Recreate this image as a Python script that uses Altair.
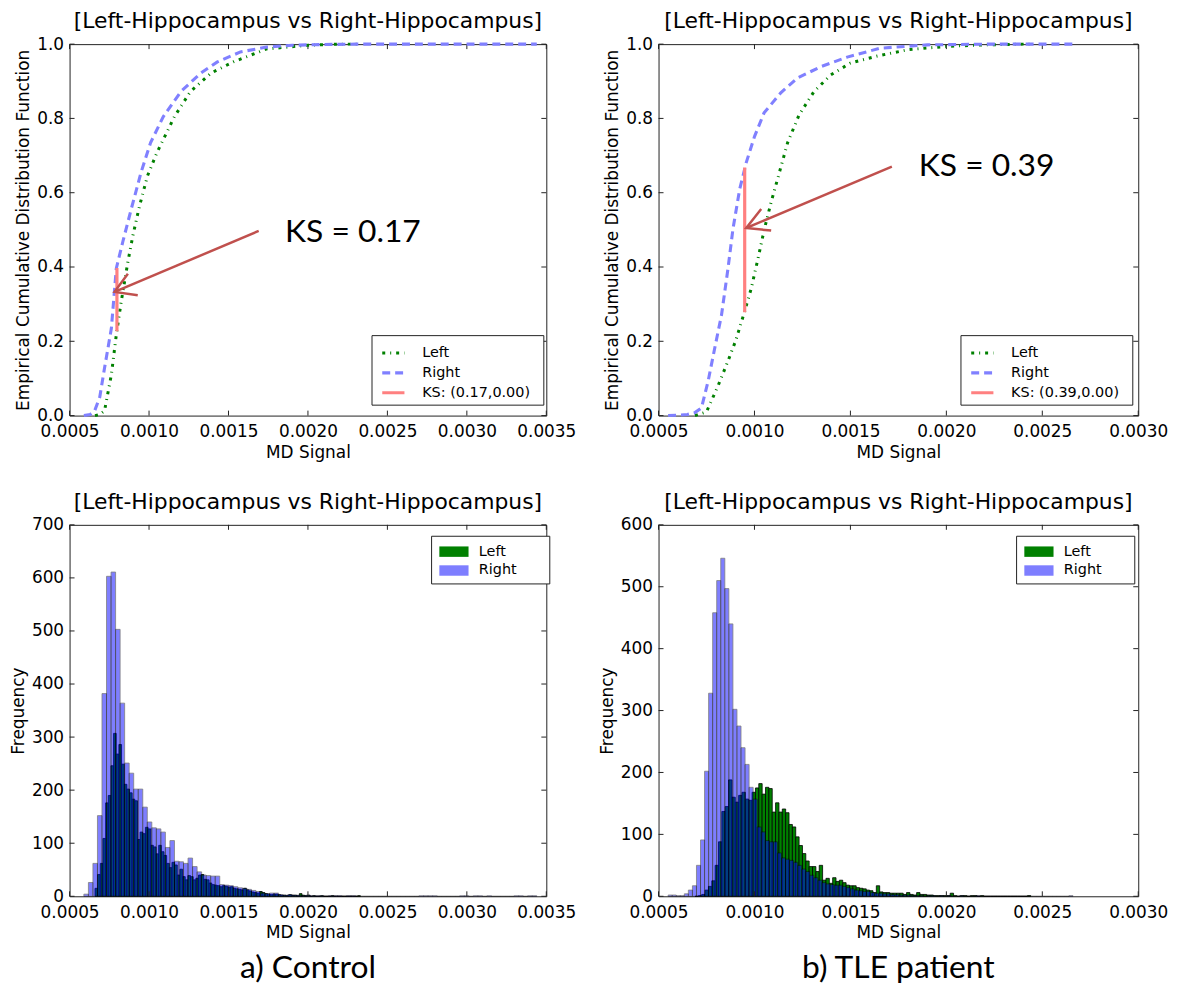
import altair as alt
import pandas as pd

# ---------------- text ----------------
TITLE = "[Left-Hippocampus vs Right-Hippocampus]"
CAPTIONS = ["a) Control", "b) TLE patient"]
KS_LABELS = ["KS: (0.17,0.00)", "KS: (0.39,0.00)"]
KS_TEXT = ["KS = 0.17", "KS = 0.39"]

# ---------------- tick labels ----------------
XTICKS_CTRL = [0.0005, 0.0010, 0.0015, 0.0020, 0.0025, 0.0030, 0.0035]
XTICKS_TLE = [0.0005, 0.0010, 0.0015, 0.0020, 0.0025, 0.0030]
YTICKS_CDF = [0.0, 0.2, 0.4, 0.6, 0.8, 1.0]
YTICKS_HIST_CTRL = [0, 100, 200, 300, 400, 500, 600, 700]
YTICKS_HIST_TLE = [0, 100, 200, 300, 400, 500, 600]

# ---------------- CDF: control ----------------
cdf_ctrl_left_x = [0.00066, 0.00069, 0.00072, 0.000763, 0.000794, 0.000825, 0.000867, 0.000898,
                   0.00094, 0.00099, 0.00105, 0.00116, 0.00126, 0.00139, 0.00153, 0.00174,
                   0.0020, 0.0022, 0.00233]
cdf_ctrl_left_y = [0.0, 0.003, 0.013, 0.11, 0.217, 0.307, 0.414, 0.484,
                   0.564, 0.645, 0.708, 0.805, 0.872, 0.922, 0.952, 0.987,
                   0.997, 1.0, 1.0]
cdf_ctrl_right_x = [0.00059, 0.00063, 0.000658, 0.00069, 0.00072, 0.000745, 0.000763, 0.000794,
                    0.000835, 0.000888, 0.00095, 0.00101, 0.00109, 0.0012, 0.001325, 0.00143,
                    0.001575, 0.00174, 0.0019, 0.0021, 0.0023, 0.0026, 0.0030, 0.00344]
cdf_ctrl_right_y = [0.0, 0.003, 0.013, 0.05, 0.128, 0.19, 0.235, 0.396,
                    0.468, 0.556, 0.655, 0.735, 0.805, 0.872, 0.922, 0.952,
                    0.979, 0.992, 0.997, 0.999, 1.0, 1.0, 1.0, 1.0]
ks_ctrl = [0.000798, 0.227, 0.397]          # x, lower, upper
arrow_ctrl_x = [0.00169, 0.000783, 0.000867, 0.000783, 0.000929]   # tail, tip | head1, tip, head2
arrow_ctrl_y = [0.497, 0.333, 0.382, 0.333, 0.324]
ks_text_ctrl = [0.001856, 0.495]

# ---------------- CDF: TLE patient ----------------
cdf_tle_left_x = [0.00069, 0.00075, 0.00081, 0.000862, 0.000903, 0.000949, 0.000983, 0.001018,
                  0.001052, 0.001087, 0.00113, 0.001173, 0.001233, 0.00131, 0.001397, 0.0015,
                  0.00164, 0.0018, 0.0020, 0.0022, 0.0024, 0.00245]
cdf_tle_left_y = [0.0, 0.01, 0.08, 0.147, 0.203, 0.281, 0.342, 0.422,
                  0.503, 0.575, 0.655, 0.735, 0.81, 0.872, 0.917, 0.949,
                  0.968, 0.985, 0.994, 0.998, 1.0, 1.0]
cdf_tle_right_x = [0.00055, 0.0006, 0.00065, 0.00069, 0.000724, 0.000759, 0.000793, 0.000828,
                   0.000862, 0.000888, 0.000923, 0.000957, 0.001, 0.00105, 0.001137, 0.001225,
                   0.001344, 0.001483, 0.001654, 0.0019, 0.0022, 0.00266]
cdf_tle_right_y = [0.0, 0.001, 0.003, 0.008, 0.021, 0.094, 0.182, 0.27,
                   0.396, 0.503, 0.61, 0.681, 0.751, 0.815, 0.869, 0.909,
                   0.939, 0.965, 0.989, 0.998, 1.0, 1.0]
ks_tle = [0.000949, 0.278, 0.668]
arrow_tle_x = [0.001716, 0.000957, 0.001035, 0.000957, 0.001087]
arrow_tle_y = [0.670, 0.505, 0.556, 0.505, 0.498]
ks_text_tle = [0.001856, 0.671]

# ---------------- histograms (bin start, bin width, counts) ----------------
hist_ctrl_right_start, hist_ctrl_right_width = 0.00059, 0.0000285
hist_ctrl_right = [4, 26, 62, 152, 382, 603, 611, 503, 364, 251,
                   232, 202, 202, 168, 140, 129, 127, 121, 92, 105,
                   66, 65, 62, 72, 56, 46, 40, 39, 38, 38,
                   22, 21, 20, 18, 16, 15, 13, 11, 9, 6,
                   5, 6, 6, 3, 2, 3, 2, 2, 1, 2,
                   1, 1, 1, 0, 1, 1, 1, 0, 1, 1,
                   0, 0, 0, 0, 0, 0, 0, 0, 0, 0,
                   0, 0, 0, 0, 1, 1, 1, 1, 0, 0,
                   0, 0, 0, 1, 1, 0, 1, 1, 0, 1,
                   0, 0, 0, 0, 0, 1, 1, 0, 1, 1]
hist_ctrl_left_start, hist_ctrl_left_width = 0.00066, 0.0000167
hist_ctrl_left = [15, 41, 62, 109, 176, 190, 246, 307, 268, 286,
                  249, 211, 202, 195, 183, 180, 107, 121, 118, 130,
                  127, 96, 93, 80, 96, 84, 77, 62, 54, 64,
                  59, 40, 51, 37, 31, 39, 37, 31, 34, 40,
                  41, 32, 31, 25, 22, 21, 20, 18, 20, 19,
                  17, 18, 15, 14, 13, 12, 15, 12, 10, 8,
                  7, 6, 9, 7, 5, 4, 3, 4, 4, 3,
                  2, 2, 1, 3, 2, 2, 1, 5, 2, 1,
                  2, 0, 1, 0, 0, 1, 0, 0, 0, 1,
                  0, 0, 0, 0, 0, 0, 0, 0, 0, 1]
hist_tle_right_start, hist_tle_right_width = 0.00055, 0.0000211
hist_tle_right = [2, 2, 1, 1, 4, 10, 17, 50, 91, 202,
                  328, 458, 510, 546, 497, 440, 302, 275, 240, 213,
                  176, 157, 112, 104, 90, 88, 88, 70, 62, 60,
                  58, 55, 50, 44, 40, 34, 30, 26, 22, 20,
                  19, 18, 18, 16, 14, 12, 10, 9, 8, 8,
                  6, 5, 5, 4, 4, 3, 3, 2, 2, 2,
                  1, 1, 1, 0, 1, 1, 0, 1, 0, 1,
                  0, 0, 1, 0, 0, 0, 1, 0, 0, 0,
                  0, 0, 0, 0, 0, 0, 0, 0, 0, 0,
                  0, 0, 0, 0, 0, 0, 0, 0, 0, 1]
hist_tle_left_start, hist_tle_left_width = 0.00069, 0.0000175
hist_tle_left = [0, 1, 3, 10, 16, 25, 50, 88, 137, 145,
                 188, 160, 152, 163, 168, 157, 155, 168, 175, 182,
                 165, 176, 174, 136, 151, 136, 141, 135, 116, 112,
                 96, 82, 69, 57, 48, 48, 40, 50, 26, 29,
                 21, 30, 24, 26, 22, 18, 17, 17, 14, 13,
                 12, 10, 9, 6, 17, 7, 6, 6, 5, 5,
                 5, 5, 3, 6, 3, 2, 6, 3, 3, 2,
                 2, 1, 1, 1, 1, 1, 5, 1, 0, 1,
                 1, 0, 1, 1, 0, 1, 0, 0, 0, 0,
                 0, 0, 0, 0, 0, 0, 0, 0, 0, 1]

# ---------------- styling ----------------
H = 374
W_CTRL, W_TLE = 480, 483
FONT = "DejaVu Sans"
ANNOT_FONT = "Lato"
ARROW_COLOR = "#c0504d"
LINE_COLORS = ["#008000", "#8080ff", "#ff8080"]
LINE_DASHES = [[3, 5, 1, 5], [8, 5], [1, 0]]
LINE_WIDTHS = [3, 3.2, 2]


def x_enc(domain, ticks):
    return alt.X("x:Q", scale=alt.Scale(domain=domain, nice=False, zero=False),
                 axis=alt.Axis(values=ticks, format=".4f"), title="MD Signal")


def y_enc(domain, ticks, fmt, title):
    return alt.Y("y:Q", scale=alt.Scale(domain=domain, nice=False, zero=False),
                 axis=alt.Axis(values=ticks, format=fmt), title=title)


def tick_layers(X, Y, xticks, yticks, W):
    xt = pd.DataFrame({"x": xticks})
    yt = pd.DataFrame({"y": yticks})
    base_x = alt.Chart(xt).mark_rule(color="#222222", strokeWidth=1)
    base_y = alt.Chart(yt).mark_rule(color="#222222", strokeWidth=1)
    return [
        base_x.encode(x=X, y=alt.value(0), y2=alt.value(5)),
        base_x.encode(x=X, y=alt.value(H - 5), y2=alt.value(H)),
        base_y.encode(y=Y, x=alt.value(0), x2=alt.value(5)),
        base_y.encode(y=Y, x=alt.value(W - 5), x2=alt.value(W)),
    ]


def cdf_panel(lx, ly, rx, ry, ks, ks_label, ax, ay, txt, txt_pos, xdom, xticks, W, legx):
    rows = []
    for i, (a, b) in enumerate(zip(lx, ly)):
        rows.append({"x": a, "y": b, "series": "Left", "o": i})
    for i, (a, b) in enumerate(zip(rx, ry)):
        rows.append({"x": a, "y": b, "series": "Right", "o": i})
    rows.append({"x": ks[0], "y": ks[1], "series": ks_label, "o": 0})
    rows.append({"x": ks[0], "y": ks[2], "series": ks_label, "o": 1})
    df = pd.DataFrame(rows)
    dom = ["Left", "Right", ks_label]
    X = x_enc(xdom, xticks)
    Y = y_enc([0, 1], YTICKS_CDF, ".1f", "Empirical Cumulative Distribution Function")
    leg = alt.Legend(orient="none", legendX=legx, legendY=293, title="_",
                     titleOrient="right", titleOpacity=0, titleFontSize=8, titlePadding=3,
                     strokeColor="#222222", fillColor="white", padding=5, rowPadding=0,
                     symbolType="stroke", symbolSize=500, symbolStrokeWidth=3, symbolOffset=4,
                     labelFont=FONT, labelFontSize=14.5, labelOffset=16, labelColor="black",
                     labelLimit=300)
    lines = alt.Chart(df).mark_line(strokeCap="butt").encode(
        x=X, y=Y,
        color=alt.Color("series:N", scale=alt.Scale(domain=dom, range=LINE_COLORS), legend=leg),
        strokeDash=alt.StrokeDash("series:N", scale=alt.Scale(domain=dom, range=LINE_DASHES), legend=leg),
        strokeWidth=alt.StrokeWidth("series:N", scale=alt.Scale(domain=dom, range=LINE_WIDTHS), legend=None),
        order="o:Q",
        detail="series:N",
    )
    arrow_df = pd.DataFrame({"x": ax, "y": ay,
                             "part": ["shaft", "shaft", "head", "head", "head"],
                             "o": [0, 1, 0, 1, 2]})
    arrow = alt.Chart(arrow_df).mark_line(color=ARROW_COLOR, strokeWidth=2.5).encode(
        x=X, y=Y, detail="part:N", order="o:Q")
    text = alt.Chart(pd.DataFrame({"x": [txt_pos[0]], "y": [txt_pos[1]], "t": [txt]})).mark_text(
        align="left", baseline="middle", font=ANNOT_FONT, fontSize=32, color="black").encode(
        x=X, y=Y, text="t:N")
    layers = tick_layers(X, Y, xticks, YTICKS_CDF, W) + [lines, arrow, text]
    return alt.layer(*layers).properties(width=W, height=H, title=TITLE)


def bars_frame(start, width, counts, name):
    return pd.DataFrame({
        "x": [start + i * width for i in range(len(counts))],
        "x2": [start + (i + 1) * width for i in range(len(counts))],
        "y": counts,
        "base": [0] * len(counts),
        "series": [name] * len(counts),
    })


def hist_panel(left_df, right_df, ymax, yticks, xdom, xticks, W, legx, caption):
    X = x_enc(xdom, xticks)
    Y = y_enc([0, ymax], yticks, "d", "Frequency")
    leg = alt.Legend(orient="none", legendX=legx, legendY=11, title="_",
                     titleOrient="right", titleOpacity=0, titleFontSize=8, titlePadding=23,
                     strokeColor="#222222", fillColor="white", padding=5, rowPadding=0,
                     symbolType="M-1.4,-0.5H1.4V0.5H-1.4Z", symbolSize=441, symbolOffset=7,
                     symbolStrokeColor="black", symbolStrokeWidth=1,
                     labelFont=FONT, labelFontSize=14.5, labelOffset=14, labelColor="black")
    dom = ["Left", "Right"]
    color = alt.Color("series:N", scale=alt.Scale(domain=dom, range=["#008000", "#0000ff"]), legend=leg)
    opac = alt.Opacity("series:N", scale=alt.Scale(domain=dom, range=[1.0, 0.5]), legend=leg)
    lb = alt.Chart(left_df).mark_rect(stroke="black", strokeWidth=0.8).encode(
        x=X, x2="x2:Q", y=Y, y2="base:Q", color=color, opacity=opac)
    rb = alt.Chart(right_df).mark_rect(stroke="black", strokeWidth=0.8).encode(
        x=X, x2="x2:Q", y=Y, y2="base:Q", color=color, opacity=opac)
    cap = alt.Chart(pd.DataFrame({"t": [caption]})).mark_text(
        font=ANNOT_FONT, fontSize=32, color="black", align="center", baseline="middle").encode(
        text="t:N", x=alt.value(W / 2), y=alt.value(H + 72))
    layers = [lb, rb] + tick_layers(X, Y, xticks, yticks, W) + [cap]
    return alt.layer(*layers).properties(width=W, height=H, title=TITLE)


cdf_c = cdf_panel(cdf_ctrl_left_x, cdf_ctrl_left_y, cdf_ctrl_right_x, cdf_ctrl_right_y,
                  ks_ctrl, KS_LABELS[0], arrow_ctrl_x, arrow_ctrl_y, KS_TEXT[0], ks_text_ctrl,
                  [0.0005, 0.0035], XTICKS_CTRL, W_CTRL, 304)
cdf_t = cdf_panel(cdf_tle_left_x, cdf_tle_left_y, cdf_tle_right_x, cdf_tle_right_y,
                  ks_tle, KS_LABELS[1], arrow_tle_x, arrow_tle_y, KS_TEXT[1], ks_text_tle,
                  [0.0005, 0.0030], XTICKS_TLE, W_TLE, 304)
hist_c = hist_panel(bars_frame(hist_ctrl_left_start, hist_ctrl_left_width, hist_ctrl_left, "Left"),
                    bars_frame(hist_ctrl_right_start, hist_ctrl_right_width, hist_ctrl_right, "Right"),
                    700, YTICKS_HIST_CTRL, [0.0005, 0.0035], XTICKS_CTRL, W_CTRL, 364, CAPTIONS[0])
hist_t = hist_panel(bars_frame(hist_tle_left_start, hist_tle_left_width, hist_tle_left, "Left"),
                    bars_frame(hist_tle_right_start, hist_tle_right_width, hist_tle_right, "Right"),
                    600, YTICKS_HIST_TLE, [0.0005, 0.0030], XTICKS_TLE, W_TLE, 360, CAPTIONS[1])

chart = alt.concat(
    cdf_c, cdf_t, hist_c, hist_t, columns=2, align="each",
    spacing={"row": 29, "column": 21},
).resolve_scale(
    color="independent", strokeDash="independent", opacity="independent", strokeWidth="independent"
).properties(
    padding={"left": 1, "top": -2, "right": 5, "bottom": 5}
).configure_view(
    stroke="#222222", strokeWidth=1
).configure_axis(
    labelFont=FONT, labelFontSize=17, labelColor="black",
    titleFont=FONT, titleFontSize=17, titleFontWeight="normal", titleColor="black",
    domain=False, ticks=False, tickSize=0, grid=False,
    labelFlush=False, labelOverlap=False, labelPadding=6, titlePadding=4,
).configure_axisX(
    labelPadding=8, titlePadding=5
).configure_title(
    font=FONT, fontSize=22, fontWeight="normal", color="black",
    anchor="middle", frame="group", offset=2,
)

chart.save("out.html", embed_options={"renderer": "svg", "actions": False})
